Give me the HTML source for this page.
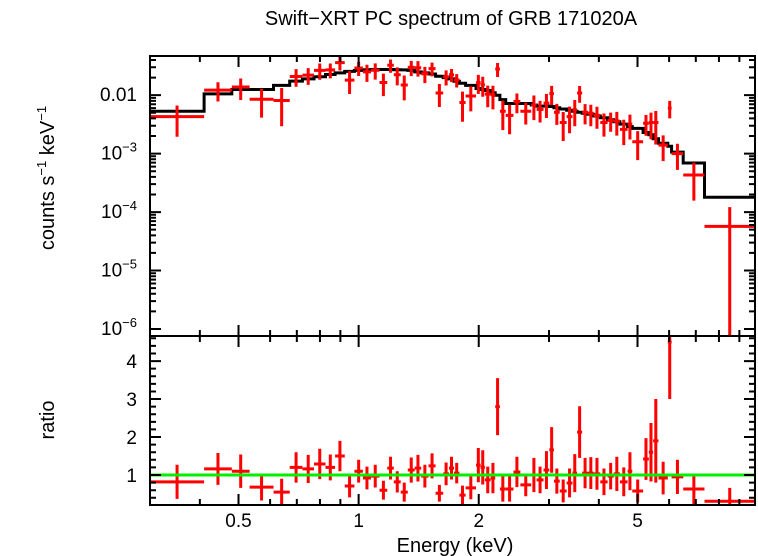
<!DOCTYPE html>
<html><head><meta charset="utf-8"><style>
body{margin:0;background:#fff;}
svg{display:block;font-family:"Liberation Sans",sans-serif;}
</style></head><body>
<svg id="chart" width="758" height="556" viewBox="0 0 758 556" xmlns="http://www.w3.org/2000/svg">
<rect width="758" height="556" fill="#fff"/>
<text x="451" y="25" font-size="20" text-anchor="middle">Swift−XRT PC spectrum of GRB 171020A</text>
<text transform="translate(54,178) rotate(-90)" font-size="20" text-anchor="middle">counts s<tspan font-size="13" dy="-8">−1</tspan><tspan dy="8"> keV</tspan><tspan font-size="13" dy="-8">−1</tspan></text>
<text transform="translate(54,420) rotate(-90)" font-size="20" text-anchor="middle">ratio</text>
<text x="455" y="552" font-size="20" text-anchor="middle">Energy (keV)</text>
<g id="g"></g>
</svg>
<script>
const binEdges=[0.300,0.410,0.481,0.533,0.612,0.672,0.723,0.773,0.826,0.873,0.923,0.976,1.025,1.074,1.128,1.180,1.225,1.275,1.328,1.382,1.435,1.497,1.559,1.629,1.685,1.734,1.789,1.854,1.969,2.022,2.072,2.142,2.200,2.260,2.337,2.444,2.543,2.707,2.793,2.907,3.006,3.087,3.192,3.322,3.435,3.528,3.633,3.757,3.882,4.033,4.208,4.358,4.518,4.722,4.851,5.164,5.338,5.471,5.643,5.956,6.088,6.510,7.359,9.85];
const modelValues=[0.0053,0.0105,0.0125,0.0125,0.0147,0.0174,0.019,0.0206,0.0226,0.024,0.0255,0.0265,0.0272,0.0275,0.0275,0.0275,0.0272,0.027,0.0265,0.025,0.024,0.023,0.021,0.020,0.019,0.0173,0.016,0.0147,0.013,0.0125,0.012,0.011,0.010,0.0084,0.0072,0.0072,0.0072,0.0068,0.0065,0.0065,0.0064,0.0061,0.0058,0.0055,0.0053,0.0051,0.0049,0.0047,0.0044,0.0041,0.0038,0.0035,0.0032,0.0029,0.0027,0.0023,0.0021,0.0018,0.0015,0.00134,0.00106,0.00069,0.00018];
const countValues=[0.0043,0.0122,0.0138,0.0085,0.0081,0.0209,0.022,0.0266,0.0271,0.036,0.0181,0.0292,0.025,0.0267,0.0165,0.0325,0.0223,0.0149,0.0299,0.0295,0.0233,0.0285,0.0109,0.0206,0.0224,0.0182,0.0075,0.0097,0.0164,0.015,0.0104,0.0101,0.028,0.0053,0.0045,0.0078,0.0053,0.0068,0.0057,0.0073,0.0106,0.0051,0.0034,0.0043,0.0056,0.0109,0.0051,0.0049,0.0045,0.0034,0.0037,0.0036,0.0026,0.0032,0.0016,0.0033,0.0034,0.0034,0.0014,0.006,0.001,0.00043,0.000057];
const ratioValues=[0.82,1.16,1.10,0.68,0.55,1.2,1.16,1.29,1.2,1.5,0.71,1.1,0.92,0.97,0.6,1.18,0.82,0.55,1.13,1.18,0.97,1.24,0.52,1.03,1.18,1.05,0.47,0.66,1.26,1.2,0.87,0.92,2.8,0.63,0.63,1.08,0.74,1.0,0.87,1.13,1.66,0.84,0.58,0.79,1.05,2.13,1.05,1.05,1.03,0.82,0.97,1.03,0.82,1.1,0.58,1.42,1.6,1.9,0.92,4.5,0.95,0.63,0.31];
const ratioErrors=[.45,.42,.44,.35,.35,.4,.37,.4,.34,.4,.3,.3,.3,.3,.25,.3,.28,.25,.33,.35,.3,.33,.22,.3,.3,.27,.25,.3,.45,.45,.35,.4,.75,.33,.33,.4,.3,.45,.35,.5,.6,.33,.3,.38,.5,.68,.4,.42,.42,.35,.35,.45,.38,.5,.3,.55,.77,1.1,.43,1.5,.45,.4,.35];
const xTickLabels=["0.5","1","2","5"];
const xTickValues=[0.5,1,2,5];
const yTopLabels=["0.01","10","10","10","10"];
const yTopSup=["","−3","−4","−5","−6"];
const yTopValues=[0.01,1e-3,1e-4,1e-5,1e-6];
const ratioTickValues=[1,2,3,4];

const L=150,R=755,T1=56,B1=336,T2=336,B2=505;
const ex0=Math.log10(0.3),ex1=Math.log10(9.85);
const X=e=>L+(Math.log10(e)-ex0)/(ex1-ex0)*(R-L);
const ly0=-6.12,ly1=-1.33;
const Y1=v=>B1-(Math.log10(v)-ly0)/(ly1-ly0)*(B1-T1);
const r0=0.21,r1=4.66;
const Y2=v=>B2-(v-r0)/(r1-r0)*(B2-T2);
const g=document.getElementById('g');
const NS='http://www.w3.org/2000/svg';
function mk(tag,attrs){const el=document.createElementNS(NS,tag);for(const k in attrs)el.setAttribute(k,attrs[k]);g.appendChild(el);return el;}
const cl=(v,a,b)=>Math.max(a,Math.min(b,v));

let d='';
for(let i=0;i<modelValues.length;i++){const y=Y1(modelValues[i]);d+=(i?'L':'M')+X(binEdges[i]).toFixed(1)+','+y.toFixed(1)+'L'+X(binEdges[i+1]).toFixed(1)+','+y.toFixed(1);}
const ml=mk('path',{d:d,fill:'none',stroke:'#000','stroke-width':3});



for(let i=0;i<countValues.length;i++){
  const x0=X(binEdges[i]),x1=X(binEdges[i+1]),xc=X(Math.sqrt(binEdges[i]*binEdges[i+1]));
  const c=countValues[i],rel=ratioErrors[i]/ratioValues[i];
  const yc=Y1(c),yh=Y1(c*(1+rel)),yl=c*(1-rel)>0?Y1(c*(1-rel)):B1;
  const p=mk('path',{d:`M${x0},${yc}H${x1}M${xc},${cl(yh,T1,B1)}V${cl(yl,T1,B1)}`,stroke:'#f00','stroke-width':3,fill:'none'});
  
  
  const r=ratioValues[i],ry=Y2(r),ryh=Y2(r+ratioErrors[i]),ryl=Y2(r-ratioErrors[i]);
  const q=mk('path',{d:`M${x0},${ry}H${x1}M${xc},${cl(ryh,T2,B2)}V${cl(ryl,T2,B2)}`,stroke:'#f00','stroke-width':3,fill:'none'});
  
  
}
const gl=mk('line',{x1:L,x2:R,y1:Y2(1),y2:Y2(1),stroke:'#0e0','stroke-width':3});



for(const [t,b,n] of [[T1,B1,'top-panel-frame'],[T2,B2,'bottom-panel-frame']]){
  const f=mk('rect',{x:L,y:t,width:R-L,height:b-t,fill:'none',stroke:'#000','stroke-width':2});
  
  
}
let td='';
const minorE=[0.3,0.4,0.6,0.7,0.8,0.9,3,4,6,7,8,9];
for(const e of minorE){const x=X(e);for(const [t,b] of [[T1,B1],[T2,B2]]){td+=`M${x},${t}v6M${x},${b}v-6`;}}
for(const e of xTickValues){const x=X(e);for(const [t,b] of [[T1,B1],[T2,B2]]){td+=`M${x},${t}v11M${x},${b}v-11`;}}
for(let p=-6;p<=-2;p++){for(let m=1;m<10;m++){const v=m*Math.pow(10,p);const lv=Math.log10(v);if(lv<ly0||lv>ly1)continue;const y=Y1(v);const w=m===1?11:6;td+=`M${L},${y}h${w}M${R},${y}h${-w}`;}}
for(let k=1;k<=23;k++){const v=k*0.2;if(v<r0||v>r1)continue;const y=Y2(v);const w=Math.abs(v-Math.round(v))<1e-6?11:6;td+=`M${L},${y}h${w}M${R},${y}h${-w}`;}
const tk=mk('path',{d:td,stroke:'#000','stroke-width':2,fill:'none'});



for(let i=0;i<xTickValues.length;i++){
  const t=mk('text',{x:X(xTickValues[i]),y:527,'font-size':19,'text-anchor':'middle'});t.textContent=xTickLabels[i];
  
  
}
for(let i=0;i<yTopValues.length;i++){
  const t=mk('text',{x:137,y:Y1(yTopValues[i])+6,'font-size':19,'text-anchor':'end'});
  t.textContent=yTopLabels[i];
  if(yTopSup[i]){const s=document.createElementNS(NS,'tspan');s.setAttribute('font-size','13');s.setAttribute('dy','-8');s.textContent=yTopSup[i];t.appendChild(s);}
  
  
}
for(const v of ratioTickValues){
  const t=mk('text',{x:137,y:Y2(v)+7,'font-size':19,'text-anchor':'end'});t.textContent=String(v);
  
  
}
</script>
</body></html>
